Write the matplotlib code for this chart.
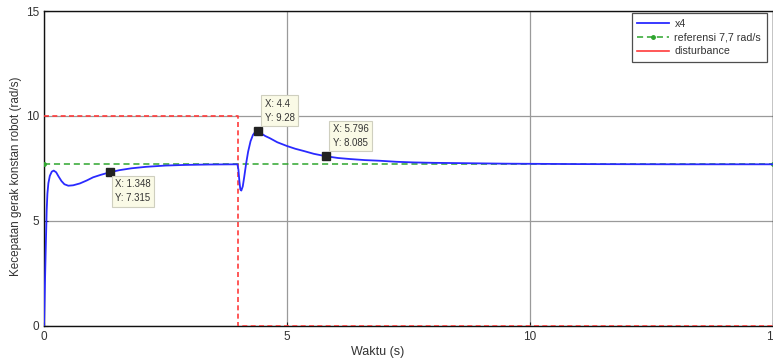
import matplotlib
matplotlib.use("Agg")
import matplotlib.pyplot as plt
from matplotlib.lines import Line2D

plt.rcParams['font.family'] = ['Liberation Sans', 'DejaVu Sans']

# Robot speed response x4 (rad/s) over time (s)
t_x4 = [0.0, 0.01, 0.02, 0.035, 0.055, 0.07, 0.09, 0.12, 0.16, 0.2, 0.25,
        0.3, 0.36, 0.42, 0.5, 0.6, 0.74, 0.88, 1.01, 1.17, 1.348, 1.55, 1.8,
        2.1, 2.5, 2.9, 3.4, 3.98, 4.0, 4.02, 4.04, 4.06, 4.09, 4.12, 4.16,
        4.2, 4.25, 4.3, 4.35, 4.4, 4.45, 4.55, 4.65, 4.8, 5.0, 5.17, 5.35,
        5.55, 5.796, 6.05, 6.3, 6.6, 6.9, 7.25, 7.6, 8.0, 8.4, 9.5, 11.0,
        13.0, 15.0]
v_x4 = [0.0, 1.0, 2.1, 3.6, 5.5, 6.3, 6.8, 7.15, 7.35, 7.4, 7.32,
        7.12, 6.9, 6.75, 6.68, 6.7, 6.79, 6.93, 7.08, 7.2, 7.315, 7.42, 7.51,
        7.58, 7.64, 7.67, 7.69, 7.7, 7.45, 6.9, 6.5, 6.45, 6.65, 7.1, 7.75,
        8.3, 8.8, 9.1, 9.25, 9.28, 9.2, 9.05, 8.94, 8.75, 8.57, 8.44, 8.33,
        8.2, 8.085, 8.0, 7.95, 7.9, 7.87, 7.82, 7.79, 7.77, 7.76, 7.73, 7.71,
        7.7, 7.7]

# Reference speed
t_ref = [0.0, 15.0]
v_ref = [7.7, 7.7]

# Disturbance signal
t_dist = [0.0, 4.0, 4.0, 15.0]
v_dist = [10.0, 10.0, 0.0, 0.0]

# Data tips
tips_x = [1.348, 4.4, 5.796]
tips_y = [7.315, 9.28, 8.085]
tip_offsets = [(4, -5), (5, 6), (5, 6)]
tip_align = ['top', 'bottom', 'bottom']

x_ticks = [0, 5, 10, 15]
y_ticks = [0, 5, 10, 15]

blue = '#2a2aff'
green = '#2ea52e'
red = '#ff3b3b'

fig = plt.figure(figsize=(7.73, 3.59), dpi=100)
ax = fig.add_axes([44 / 773, 1 - 326 / 359, 729 / 773, 315 / 359])

ax.plot(t_x4, v_x4, color=blue, lw=1.3, zorder=4)
ax.plot(t_ref, v_ref, color=green, lw=1.1, ls=(0, (4, 2.5)), marker='.',
        markersize=5, zorder=3)
ax.plot(t_dist, v_dist, color=red, lw=1.2, ls=(0, (3, 2)), zorder=3)

for x, y, off, va in zip(tips_x, tips_y, tip_offsets, tip_align):
    ax.plot([x], [y], marker='s', color='#222222', markersize=5.5, zorder=6)
    ax.annotate(f"X: {x:g}\nY: {y:g}", xy=(x, y), xytext=off,
                textcoords='offset points', ha='left', va=va,
                fontsize=6.9, color='#333333', linespacing=1.5, zorder=7,
                bbox=dict(boxstyle='square,pad=0.35', fc='#fafae6',
                          ec='#cfcfbf', lw=0.8))

ax.set_xlim(0, 15)
ax.set_ylim(0, 15)
ax.set_xticks(x_ticks)
ax.set_yticks(y_ticks)
ax.grid(True, color='#9a9a9a', lw=0.9)
ax.set_axisbelow(True)
ax.tick_params(direction='in', length=3, labelsize=8.5, colors='#222222',
               labelcolor='#333333')
for s in ax.spines.values():
    s.set_color('#111111')
    s.set_linewidth(1.0)

ax.set_xlabel('Waktu (s)', fontsize=9, color='#333333')
ax.xaxis.set_label_coords((378 - 44) / 729, -0.062)
ax.set_ylabel('Kecepatan gerak konstan robot (rad/s)', fontsize=8.4,
              color='#333333')
ax.yaxis.set_label_coords(-0.030, 0.475)

handles = [
    Line2D([], [], color=blue, lw=1.3),
    Line2D([], [], color=green, lw=1.1, ls=(0, (4, 2.5)), marker='.',
           markersize=5),
    Line2D([], [], color=red, lw=1.2),
]
labels = ['x4', 'referensi 7,7 rad/s', 'disturbance']
leg = ax.legend(handles, labels, loc='upper right', fontsize=7.7,
                frameon=True, fancybox=False, edgecolor='#222222',
                borderpad=0.55, labelspacing=0.35, handlelength=2.9,
                handletextpad=0.55, borderaxespad=0,
                bbox_to_anchor=(0.9918, 0.9937))
leg.get_frame().set_linewidth(0.9)
for txt in leg.get_texts():
    txt.set_color('#333333')

fig.savefig('out.png', dpi=100)
